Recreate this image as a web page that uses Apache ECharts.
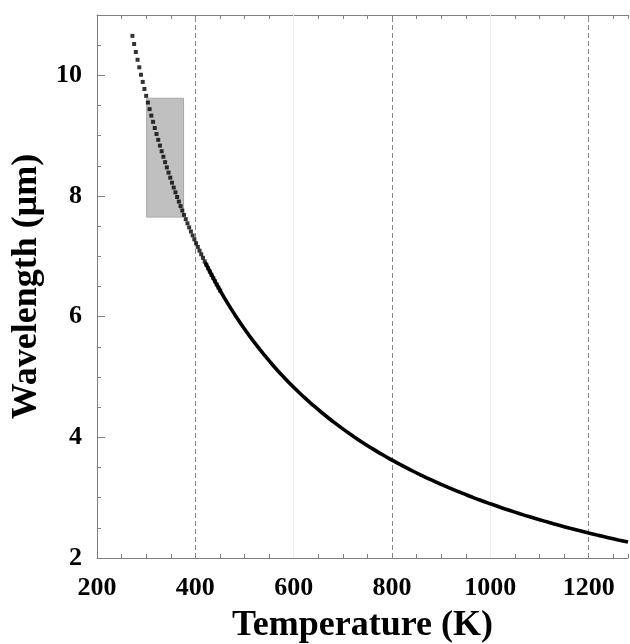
<!DOCTYPE html>
<html>
<head>
<meta charset="utf-8">
<script src="https://cdn.jsdelivr.net/npm/echarts@6/dist/echarts.min.js"></script>
<style>
  html, body { margin: 0; padding: 0; background: #fff; }
  #chart { width: 630px; height: 644px; }
</style>
</head>
<body>
<div id="chart"></div>
<script>
// Dotted (square marker) part of the curve
const dotTemperature = [272, 275.5, 279, 282.5, 286, 289.5, 293, 296.5, 300, 303.5, 307, 310.5, 314, 317.5, 321, 324.5, 328, 331.5, 335, 338.5, 342, 345.5, 349, 352.5, 356, 359.5, 363, 366.5, 370, 373.5, 377, 380.5, 384, 387.5, 391, 394.5, 398, 401.5, 405, 408.5, 412, 415.5, 419, 422.5, 426, 429.5, 433, 436.5, 440, 443.5, 447, 450.5];
const dotWavelength = [10.654, 10.519, 10.387, 10.258, 10.133, 10.010, 9.891, 9.774, 9.660, 9.549, 9.440, 9.333, 9.229, 9.127, 9.028, 8.931, 8.835, 8.742, 8.651, 8.561, 8.474, 8.388, 8.304, 8.221, 8.140, 8.061, 7.983, 7.907, 7.832, 7.759, 7.687, 7.616, 7.547, 7.479, 7.412, 7.346, 7.281, 7.218, 7.156, 7.094, 7.034, 6.975, 6.916, 6.859, 6.803, 6.747, 6.693, 6.639, 6.586, 6.534, 6.483, 6.433];
// Solid part of the curve
const lineTemperature = [420, 440, 460, 480, 500, 520, 540, 560, 580, 600, 620, 640, 660, 680, 700, 720, 740, 760, 780, 800, 820, 840, 860, 880, 900, 920, 940, 960, 980, 1000, 1020, 1040, 1060, 1080, 1100, 1120, 1140, 1160, 1180, 1200, 1220, 1240, 1260, 1280];
const lineWavelength = [6.900, 6.586, 6.300, 6.038, 5.796, 5.573, 5.367, 5.175, 4.997, 4.830, 4.674, 4.528, 4.391, 4.262, 4.140, 4.025, 3.916, 3.813, 3.715, 3.623, 3.534, 3.450, 3.370, 3.293, 3.220, 3.150, 3.083, 3.019, 2.957, 2.898, 2.841, 2.787, 2.734, 2.683, 2.635, 2.588, 2.542, 2.498, 2.456, 2.415, 2.375, 2.337, 2.300, 2.264];
// Shaded rectangle (temperature range, wavelength range)
const boxTemperature = [301, 376];
const boxWavelength = [7.65, 9.62];
// Reference vertical lines
const dashedLinesT = [400, 800, 1200];
const faintLinesT = [600, 1000];

const xTitle = 'Temperature (K)';
const yTitle = 'Wavelength (\u03bcm)';

const FONT = '"Liberation Serif", "Times New Roman", serif';

const chart = echarts.init(document.getElementById('chart'), null, { renderer: 'canvas' });

const axisGray = '#808080';

const option = {
  animation: false,
  backgroundColor: '#ffffff',
  grid: { left: 97, right: 2, top: 15, bottom: 86, containLabel: false, outerBoundsMode: 'none' },
  xAxis: [
    {
      type: 'value', min: 200, max: 1280, interval: 200, position: 'bottom',
      name: xTitle, nameLocation: 'middle', nameGap: 50,
      nameTextStyle: { fontFamily: FONT, fontWeight: 'bold', fontSize: 36, color: '#000' },
      axisLine: { show: true, onZero: false, lineStyle: { color: axisGray, width: 1 } },
      axisTick: { show: true, inside: true, length: 4, lineStyle: { color: axisGray } },
      minorTick: { show: true, splitNumber: 4, length: 4, lineStyle: { color: axisGray } },
      axisLabel: { showMaxLabel: false, margin: 17, fontFamily: FONT, fontWeight: 'bold', fontSize: 26, color: '#000', formatter: v => String(v) },
      splitLine: { show: false }
    },
    {
      type: 'value', min: 200, max: 1280, interval: 200, position: 'top',
      axisLine: { show: true, onZero: false, lineStyle: { color: axisGray, width: 1 } },
      axisTick: { show: true, inside: true, length: 4, lineStyle: { color: axisGray } },
      minorTick: { show: true, splitNumber: 4, length: 4, lineStyle: { color: axisGray } },
      axisLabel: { show: false },
      splitLine: { show: false }
    }
  ],
  yAxis: {
    type: 'value', min: 2, max: 11, interval: 2,
    name: yTitle, nameLocation: 'middle', nameGap: 46,
    nameTextStyle: { fontFamily: FONT, fontWeight: 'bold', fontSize: 36, color: '#000' },
    axisLine: { show: true, onZero: false, lineStyle: { color: axisGray, width: 1 } },
    axisTick: { show: true, inside: true, length: 8, lineStyle: { color: axisGray } },
    minorTick: { show: true, splitNumber: 4, length: 4, lineStyle: { color: axisGray } },
    axisLabel: { showMaxLabel: false, margin: 15, fontFamily: FONT, fontWeight: 'bold', fontSize: 26, color: '#000', formatter: v => String(v) },
    splitLine: { show: false }
  },
  series: [
    {
      type: 'line', data: [], z: 1, silent: true,
      markArea: {
        silent: true,
        itemStyle: { color: '#c0c0c0', borderColor: '#a8a8a8', borderWidth: 1 },
        data: [[{ xAxis: boxTemperature[0], yAxis: boxWavelength[0] }, { xAxis: boxTemperature[1], yAxis: boxWavelength[1] }]]
      },
      markLine: {
        silent: true, symbol: 'none', label: { show: false },
        lineStyle: { color: '#888888', type: [5, 3], width: 1 },
        data: dashedLinesT.map(t => ({ xAxis: t }))
      }
    },
    {
      type: 'line', data: [], z: 1, silent: true,
      markLine: {
        silent: true, symbol: 'none', label: { show: false },
        lineStyle: { color: '#ececec', type: 'solid', width: 1 },
        data: faintLinesT.map(t => ({ xAxis: t }))
      }
    },
    {
      type: 'scatter', z: 5, silent: true,
      symbol: 'rect', symbolSize: 4,
      itemStyle: { color: '#000' },
      data: dotTemperature.map((t, i) => [t, dotWavelength[i]])
    },
    {
      type: 'line', z: 5, silent: true, smooth: true, showSymbol: false,
      lineStyle: { color: '#000', width: 3.6 },
      data: lineTemperature.map((t, i) => [t, lineWavelength[i]])
    }
  ]
};

chart.setOption(option);
</script>
</body>
</html>
